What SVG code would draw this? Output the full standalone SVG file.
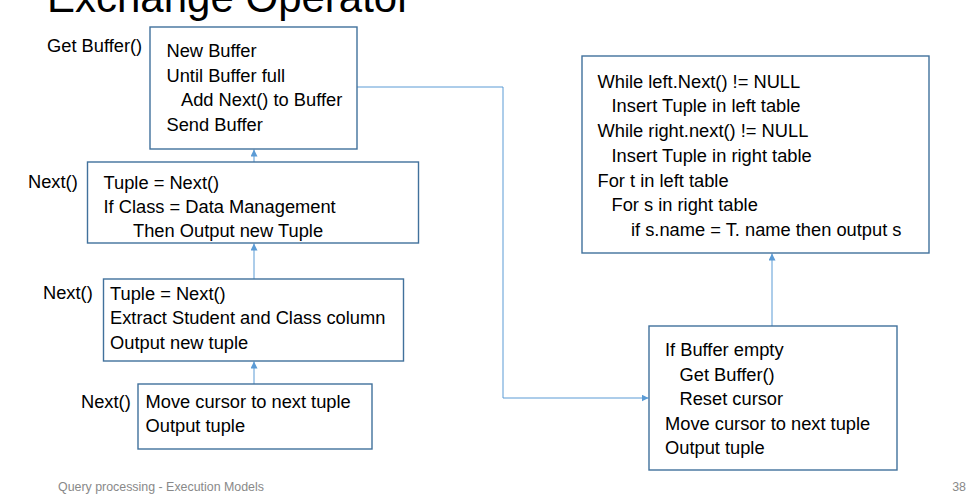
<svg xmlns="http://www.w3.org/2000/svg" width="976" height="502" viewBox="0 0 976 502">
<defs>
<style>
.box{fill:#fff;stroke:#41719c;stroke-width:1.4}
.t{font-family:"Liberation Sans",Arial,sans-serif;font-size:18.3px;fill:#000}
.conn{fill:none;stroke:#5b9bd5;stroke-width:1}
.foot{font-family:"Liberation Sans",Arial,sans-serif;font-size:12.4px;fill:#898989}
</style>
<marker id="arr" markerUnits="userSpaceOnUse" markerWidth="8" markerHeight="8" refX="7" refY="3.5" orient="auto">
<path d="M0,0 L7,3.5 L0,7 z" fill="#5b9bd5"/>
</marker>
</defs>
<rect width="976" height="502" fill="#fff"/>
<text x="47" y="12" font-family="Liberation Sans, Arial, sans-serif" font-size="42" fill="#000">Exchange Operator</text>

<g id="connectors">
<line class="conn" x1="254" y1="384" x2="254" y2="361.5" marker-end="url(#arr)"/>
<line class="conn" x1="254" y1="279" x2="254" y2="243.5" marker-end="url(#arr)"/>
<line class="conn" x1="254" y1="162" x2="254" y2="149.5" marker-end="url(#arr)"/>
<path class="conn" d="M357,87 H503 V398 H648.5" marker-end="url(#arr)"/>
<line class="conn" x1="772" y1="326" x2="772" y2="253.5" marker-end="url(#arr)"/>
</g>

<g id="getbuffer">
<rect class="box" x="150" y="27" width="207" height="122"/>
<text class="t" x="47" y="52">Get Buffer()</text>
<text class="t" x="166.5" y="57">New Buffer</text>
<text class="t" x="166.5" y="81.5">Until Buffer full</text>
<text class="t" x="181" y="106">Add Next() to Buffer</text>
<text class="t" x="166.5" y="130.5">Send Buffer</text>
</g>

<g id="select">
<rect class="box" x="87.5" y="162" width="331" height="81"/>
<text class="t" x="28" y="188">Next()</text>
<text class="t" x="103.5" y="188.5">Tuple = Next()</text>
<text class="t" x="103.5" y="212.5">If Class = Data Management</text>
<text class="t" x="133" y="236.5">Then Output new Tuple</text>
</g>

<g id="project">
<rect class="box" x="103.5" y="279" width="300" height="82"/>
<text class="t" x="43" y="299">Next()</text>
<text class="t" x="110" y="299.5">Tuple = Next()</text>
<text class="t" x="110" y="324">Extract Student and Class column</text>
<text class="t" x="110" y="348.5">Output new tuple</text>
</g>

<g id="scan">
<rect class="box" x="138" y="384" width="234" height="65"/>
<text class="t" x="81" y="407.5">Next()</text>
<text class="t" x="145.5" y="407.5">Move cursor to next tuple</text>
<text class="t" x="145.5" y="432">Output tuple</text>
</g>

<g id="join">
<rect class="box" x="582" y="56" width="347" height="197"/>
<text class="t" x="597.5" y="87.5">While left.Next() != NULL</text>
<text class="t" x="611.5" y="112">Insert Tuple in left table</text>
<text class="t" x="597.5" y="136.5">While right.next() != NULL</text>
<text class="t" x="611.5" y="161.5">Insert Tuple in right table</text>
<text class="t" x="597.5" y="186.5">For t in left table</text>
<text class="t" x="611.5" y="211">For s in right table</text>
<text class="t" x="631" y="235.5">if s.name = T. name then output s</text>
</g>

<g id="exchange">
<rect class="box" x="649" y="326" width="248" height="144"/>
<text class="t" x="665" y="356">If Buffer empty</text>
<text class="t" x="679.5" y="380.5">Get Buffer()</text>
<text class="t" x="679.5" y="405">Reset cursor</text>
<text class="t" x="665" y="429.5">Move cursor to next tuple</text>
<text class="t" x="665" y="454">Output tuple</text>
</g>

<text class="foot" x="58" y="491">Query processing - Execution Models</text>
<text class="foot" x="966" y="491" text-anchor="end">38</text>
</svg>
